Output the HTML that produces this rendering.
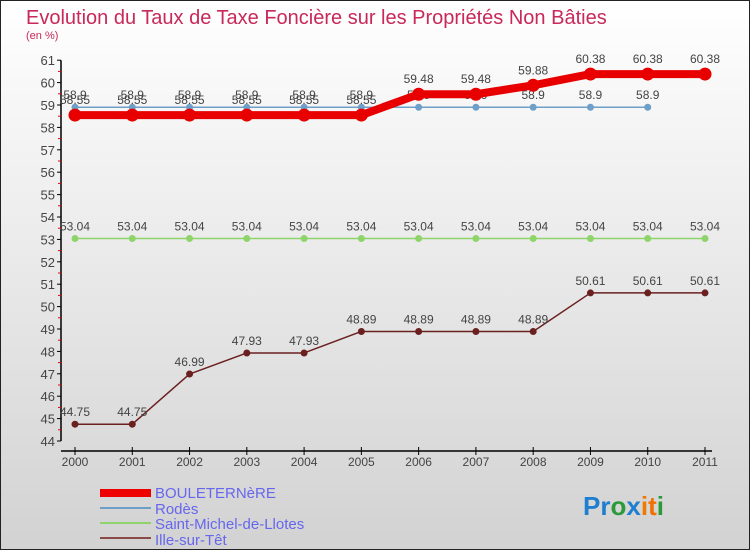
<!DOCTYPE html>
<html><head><meta charset="utf-8">
<style>
html,body{margin:0;padding:0}
body{width:750px;height:550px;overflow:hidden;font-family:"Liberation Sans",sans-serif}
</style></head>
<body>
<svg id="chart" width="750" height="550" xmlns="http://www.w3.org/2000/svg" style="display:block">
<defs>
<linearGradient id="bg" x1="0" y1="0" x2="0" y2="1">
<stop offset="0" stop-color="#ffffff"/><stop offset="1" stop-color="#d2d2d2"/>
</linearGradient>
</defs>
<rect x="0.5" y="0.5" width="749" height="549" fill="url(#bg)" stroke="#222" stroke-width="1"/>
<text x="26" y="24" font-size="20" fill="#c8285a">Evolution du Taux de Taxe Foncière sur les Propriétés Non Bâties</text>
<text x="26" y="39" font-size="11" fill="#c8285a">(en %)</text>
<g id="axes"></g>
<g id="series"></g>
<g id="legend">
<rect x="100" y="489" width="51" height="8" fill="#e00"/>
<text x="155" y="498" font-size="15" fill="#6666ee">BOULETERNèRE</text>
<rect x="100" y="507" width="51" height="2" fill="#6e9fc8"/>
<text x="155" y="514" font-size="15" fill="#6666ee">Rodès</text>
<rect x="100" y="522" width="51" height="2" fill="#8fd46a"/>
<text x="155" y="529" font-size="15" fill="#6666ee">Saint-Michel-de-Llotes</text>
<rect x="100" y="537" width="51" height="2" fill="#8a4a4a"/>
<text x="155" y="545" font-size="15" fill="#6666ee">Ille-sur-Têt</text>
</g>
<g font-size="26" font-weight="bold">
<text x="583" y="515"><tspan fill="#1e7fd0">Pr</tspan><tspan fill="#2a9a3a">o</tspan><tspan fill="#1e7fd0">x</tspan><tspan fill="#ee7a00">i</tspan><tspan fill="#f07000">t</tspan><tspan fill="#2a9a3a">i</tspan></text>
</g>
</svg>
<script>
const years=["2000","2001","2002","2003","2004","2005","2006","2007","2008","2009","2010","2011"];
const yTicks=[44,45,46,47,48,49,50,51,52,53,54,55,56,57,58,59,60,61];
const bouleternere=[58.55,58.55,58.55,58.55,58.55,58.55,59.48,59.48,59.88,60.38,60.38,60.38];
const rodes=[58.9,58.9,58.9,58.9,58.9,58.9,58.9,58.9,58.9,58.9,58.9];
const saintMichel=[53.04,53.04,53.04,53.04,53.04,53.04,53.04,53.04,53.04,53.04,53.04,53.04];
const ille=[44.75,44.75,46.99,47.93,47.93,48.89,48.89,48.89,48.89,50.61,50.61,50.61];

const NS="http://www.w3.org/2000/svg";
const xOf=i=>75+i*(630/11);
const yOf=v=>441-(v-44)*22.4;
function mk(tag,attrs,parent){const e=document.createElementNS(NS,tag);for(const k in attrs)e.setAttribute(k,attrs[k]);parent.appendChild(e);return e;}
const axes=document.getElementById('axes');
const ser=document.getElementById('series');

let ya=mk('line',{x1:61,y1:yOf(61),x2:61,y2:yOf(44),stroke:'#000','stroke-width':1.5},axes);


yTicks.forEach(v=>{
  let t=mk('line',{x1:57,x2:61,y1:yOf(v),y2:yOf(v),stroke:'#000'},axes);
  
  
  let l=mk('text',{x:55,y:yOf(v)+5,'text-anchor':'end','font-size':13,fill:'#444'},axes);
  
  
  l.textContent=v;
  if(v<61){let m=mk('line',{x1:58,x2:61,y1:yOf(v+0.5),y2:yOf(v+0.5),stroke:'#e00'},axes);
  
  }
});
let xa=mk('line',{x1:61,y1:451,x2:712,y2:451,stroke:'#000','stroke-width':1.5},axes);


years.forEach((y,i)=>{
  let t=mk('line',{x1:xOf(i),x2:xOf(i),y1:447,y2:455,stroke:'#000'},axes);
  
  
  let l=mk('text',{x:xOf(i),y:466,'text-anchor':'middle','font-size':12,fill:'#444'},axes);
  
  
  l.textContent=y;
});

function draw(name,vals,color,w,r,labelOff){
  const g=mk('g',{},ser);
  
  
  const p=mk('polyline',{points:vals.map((v,i)=>xOf(i)+','+yOf(v)).join(' '),fill:'none',stroke:color,'stroke-width':w,'stroke-linejoin':'round'},g);
  
  
  vals.forEach((v,i)=>{
    const c=mk('circle',{cx:xOf(i),cy:yOf(v),r:r,fill:color},g);
    
    
    const t=mk('text',{x:xOf(i),y:yOf(v)-labelOff,'text-anchor':'middle','font-size':12,fill:'#444'},g);
    
    
    t.textContent=v.toFixed(2).replace(/0$/,'').replace(/\.0?$/,'');
  });
}
draw('ille-sur-tet',ille,'#6b2020',1.5,3.5,8);
draw('saint-michel',saintMichel,'#8fd46a',1.5,3.5,8);
draw('rodes',rodes,'#6e9fc8',1.5,3.5,8);
draw('bouleternere',bouleternere,'#e80000',8,6.5,11);
</script>
</body></html>
